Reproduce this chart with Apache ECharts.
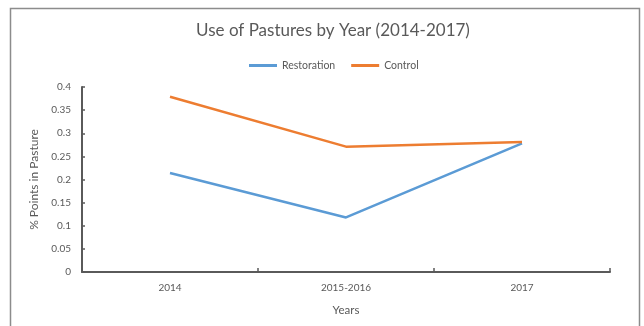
<!DOCTYPE html>
<html>
<head>
<meta charset="utf-8">
<script src="https://cdn.jsdelivr.net/npm/echarts@6/dist/echarts.min.js"></script>
<style>
  html, body { margin: 0; padding: 0; background: #fff; }
  #chart { width: 644px; height: 326px; }
</style>
</head>
<body>
<div id="chart"></div>
<script>
// Pasture use per survey period
const years = ['2014', '2015-2016', '2017'];
const restoration = [0.214, 0.118, 0.278];
const control = [0.379, 0.271, 0.281];
const yTicks = [0, 0.05, 0.1, 0.15, 0.2, 0.25, 0.3, 0.35, 0.4];

const FONT = 'Lato, "Open Sans", sans-serif';
const TEXT = '#595959';

const chart = echarts.init(document.getElementById('chart'), null, { renderer: 'canvas' });

chart.setOption({
  animation: false,
  backgroundColor: '#ffffff',
  textStyle: { fontFamily: FONT },
  title: {
    text: 'Use of Pastures by Year (2014-2017)',
    left: 328,
    textAlign: 'center',
    top: 17,
    textStyle: { fontFamily: FONT, fontSize: 17, fontWeight: 'normal', color: TEXT }
  },
  legend: {
    data: ['Restoration', 'Control'],
    left: 244,
    top: 55,
    itemWidth: 28,
    itemHeight: 3,
    itemGap: 16,
    icon: 'rect',
    textStyle: { fontFamily: FONT, fontSize: 10.5, color: TEXT }
  },
  graphic: [{
    type: 'rect',
    shape: { x: 10.5, y: 8.5, width: 629, height: 330 },
    style: { fill: 'none', stroke: '#8c8c8c', lineWidth: 1.5 },
    silent: true
  }],
  grid: { left: 82, right: 34, top: 87, bottom: 54 },
  xAxis: {
    type: 'category',
    data: years,
    boundaryGap: true,
    name: 'Years',
    nameLocation: 'middle',
    nameGap: 32,
    nameTextStyle: { fontFamily: FONT, fontSize: 11.5, color: TEXT },
    axisLine: { lineStyle: { color: '#5a5a5a', width: 2 } },
    axisTick: { show: true, inside: true, length: 4, lineStyle: { color: '#5a5a5a', width: 1.5 } },
    axisLabel: { fontFamily: FONT, fontSize: 10, color: TEXT, margin: 11 }
  },
  yAxis: {
    type: 'value',
    min: yTicks[0],
    max: yTicks[yTicks.length - 1],
    interval: 0.05,
    name: '% Points in Pasture',
    nameLocation: 'middle',
    nameGap: 35,
    nameTextStyle: { fontFamily: FONT, fontSize: 12, color: TEXT },
    axisLine: { show: true, lineStyle: { color: '#5a5a5a', width: 2 } },
    axisTick: { show: true, inside: true, length: 3, lineStyle: { color: '#5a5a5a', width: 1.5 } },
    splitLine: { show: false },
    axisLabel: {
      fontFamily: FONT, fontSize: 10, color: TEXT, margin: 11,
      formatter: v => String(Number(v.toFixed(2)))
    }
  },
  series: [
    {
      name: 'Restoration',
      type: 'line',
      data: restoration,
      symbol: 'none',
      lineStyle: { color: '#5B9BD5', width: 2.5 },
      itemStyle: { color: '#5B9BD5' }
    },
    {
      name: 'Control',
      type: 'line',
      data: control,
      symbol: 'none',
      lineStyle: { color: '#ED7D31', width: 2.5 },
      itemStyle: { color: '#ED7D31' }
    }
  ]
});
</script>
</body>
</html>
